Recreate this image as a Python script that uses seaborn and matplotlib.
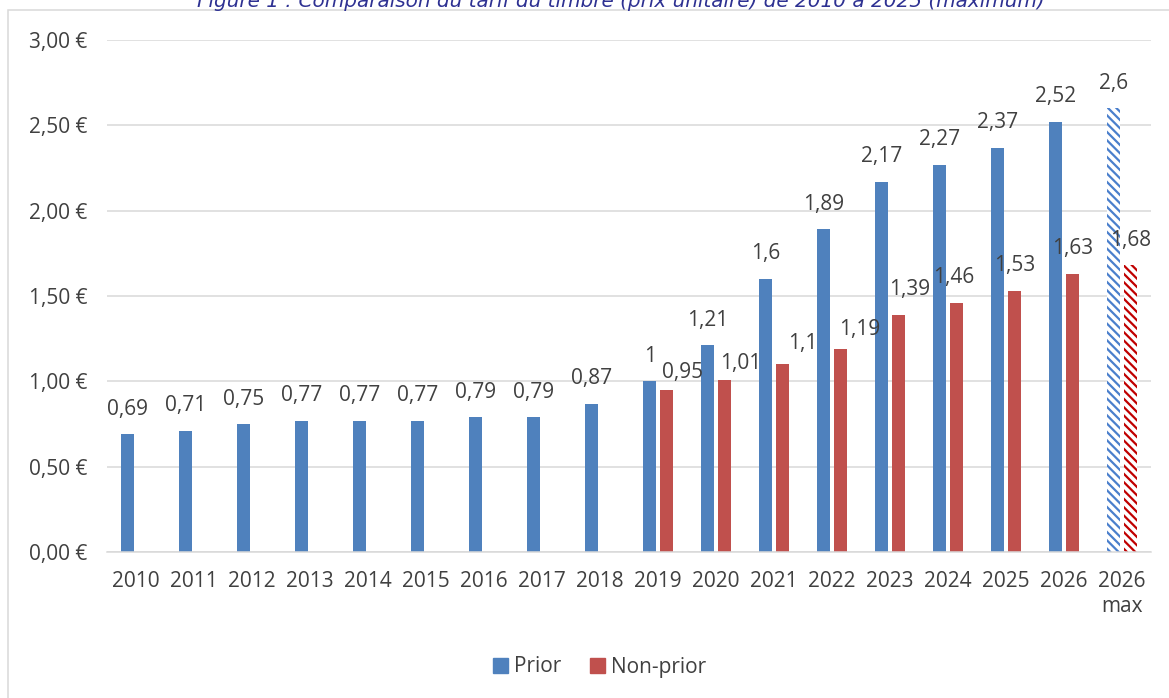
import pandas as pd
import matplotlib.pyplot as plt
import seaborn as sns
from matplotlib.patches import Rectangle

# donnees
annees = ["2010", "2011", "2012", "2013", "2014", "2015", "2016", "2017", "2018",
          "2019", "2020", "2021", "2022", "2023", "2024", "2025", "2026", "2026\nmax"]
prior = [0.69, 0.71, 0.75, 0.77, 0.77, 0.77, 0.79, 0.79, 0.87,
         1.00, 1.21, 1.60, 1.89, 2.17, 2.27, 2.37, 2.52, 2.60]
non_prior = [None] * 9 + [0.95, 1.01, 1.10, 1.19, 1.39, 1.46, 1.53, 1.63, 1.68]
series = ["Prior", "Non-prior"]
titre = "Figure 1 : Comparaison du tarif du timbre (prix unitaire) de 2010 à 2025 (maximum)"

df = pd.DataFrame({"annee": annees * 2,
                   "prix": prior + non_prior,
                   "type": [series[0]] * len(annees) + [series[1]] * len(annees)})

bleu, rouge = "#4F81BD", "#C0504D"
hachure_couleur = {"Prior": "#4A7FCC", "Non-prior": "#C00000"}
gris_texte = "#404040"
taille = 15

# decalage (px) des etiquettes non-prior, place comme dans le graphique d'origine
decal_np = {"2019": (16, 17), "2020": (16, 16), "2021": (20, 21), "2022": (19, 19),
            "2023": (11, 25), "2024": (-3, 25)}

sns.set_style("white")
plt.rcParams["font.family"] = ["Open Sans", "DejaVu Sans"]
plt.rcParams["hatch.linewidth"] = 1.6

fig = plt.figure(figsize=(11.69, 6.98), dpi=100)
ax = fig.add_axes([107 / 1169, 1 - 552 / 698, 1044 / 1169, 512 / 698])

sns.barplot(data=df, x="annee", y="prix", hue="type", hue_order=series,
            palette=[bleu, rouge], width=0.57, gap=0.2, errorbar=None,
            saturation=1, linewidth=0, ax=ax)

# barres 2026 max hachurees
for cont, nom in zip(ax.containers, series):
    b = cont.patches[-1]
    b.set_facecolor("white")
    b.set_edgecolor(hachure_couleur[nom])
    b.set_hatch("\\\\\\\\")
    b.set_linewidth(0)

# etiquettes de valeurs
for cont, nom in zip(ax.containers, series):
    for b in cont.patches:
        h = b.get_height()
        if pd.isna(h):
            continue
        xc = b.get_x() + b.get_width() / 2
        cat = annees[int(round(xc))]
        dx, dy = (0, 25)
        if nom == "Non-prior":
            dx, dy = decal_np.get(cat, (0, 25))
        ax.annotate(f"{h:g}".replace(".", ","), (xc, h), xytext=(dx, dy),
                    textcoords="offset pixels", ha="center", va="center",
                    fontsize=taille, color=gris_texte)

ax.set_ylim(0, 3)
ax.set_xlim(-0.5, len(annees) - 0.5)
ax.set_yticks([0, 0.5, 1, 1.5, 2, 2.5, 3])
ax.set_yticklabels([f"{v:.2f} €".replace(".", ",") for v in [0, 0.5, 1, 1.5, 2, 2.5, 3]])
ax.grid(axis="y", color="#D9D9D9", linewidth=1.1)
ax.set_axisbelow(True)
for s in ["top", "right", "left"]:
    ax.spines[s].set_visible(False)
ax.spines["bottom"].set_color("#D9D9D9")
ax.spines["bottom"].set_linewidth(1.1)
ax.tick_params(axis="both", length=0, labelsize=taille, labelcolor=gris_texte)
ax.tick_params(axis="x", pad=14)
ax.tick_params(axis="y", pad=14)
ax.set_xlabel("")
ax.set_ylabel("")

ax.legend_.remove()
handles = [Rectangle((0, 0), 1, 1, color=bleu), Rectangle((0, 0), 1, 1, color=rouge)]
fig.legend(handles, series, loc="center", bbox_to_anchor=(0.513, 1 - 667 / 698),
           ncol=2, frameon=False, fontsize=taille, labelcolor=gris_texte,
           handlelength=0.7, handleheight=0.7, handletextpad=0.3, columnspacing=1.4)

# cadre gris et titre coupe en haut (comme dans l'original)
fig.patches.append(Rectangle((8 / 1169, -0.1), 1.2, 1.1 - 10 / 698, transform=fig.transFigure,
                             fill=False, edgecolor="#D9D9D9", linewidth=1.1))
fig.text(621 / 1169, 1 - 7 / 698, titre, ha="center", va="baseline", fontsize=14.4,
         style="italic", color="#2E3192", family=["DejaVu Sans"])

fig.savefig("out.png", dpi=100)
